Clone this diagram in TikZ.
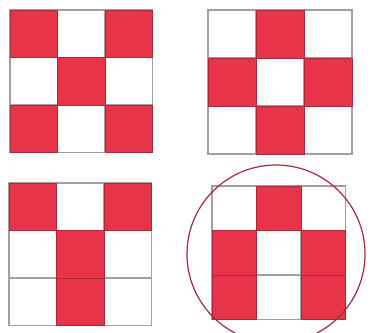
\documentclass[tikz,border=0pt]{standalone}
\begin{document}
\begin{tikzpicture}[x=1pt,y=-1pt]
\definecolor{cellred}{RGB}{232,52,72}
\definecolor{edgered}{RGB}{170,40,55}
\definecolor{gridgray}{RGB}{160,160,160}
\tikzset{
  redcell/.style={fill=cellred,draw=edgered,line width=1pt},
  gridline/.style={draw=gridgray,line width=1.2pt},
  ring/.style={draw=edgered,line width=1.2pt}
}
\useasboundingbox (0,0) rectangle (371,332);
\clip (0,0) rectangle (371,332);
% grid macro via foreach lists: x0,y0,cell,cells
\newcommand{\mygrid}[4]{%
  \draw[gridline] (#1,#2) rectangle ({#1+3*#3},{#2+3*#3});
  \foreach \k in {1,2}{
    \draw[gridline] ({#1+\k*#3},#2) -- ({#1+\k*#3},{#2+3*#3});
    \draw[gridline] (#1,{#2+\k*#3}) -- ({#1+3*#3},{#2+\k*#3});
  }
  \foreach \r/\c in {#4}{
    \draw[redcell] ({#1+\c*#3},{#2+\r*#3}) rectangle ({#1+(\c+1)*#3},{#2+(\r+1)*#3});
  }
}
\mygrid{10}{10}{47.5}{0/0,0/2,1/1,2/0,2/2}
\mygrid{208}{10}{48}{0/1,1/0,1/2,2/1}
\mygrid{9}{183}{47.5}{0/0,0/2,1/1,2/1}
\mygrid{212}{186}{44.5}{0/1,1/0,1/2,2/0,2/2}
\draw[ring] (276,254) circle (89);
\end{tikzpicture}
\end{document}
